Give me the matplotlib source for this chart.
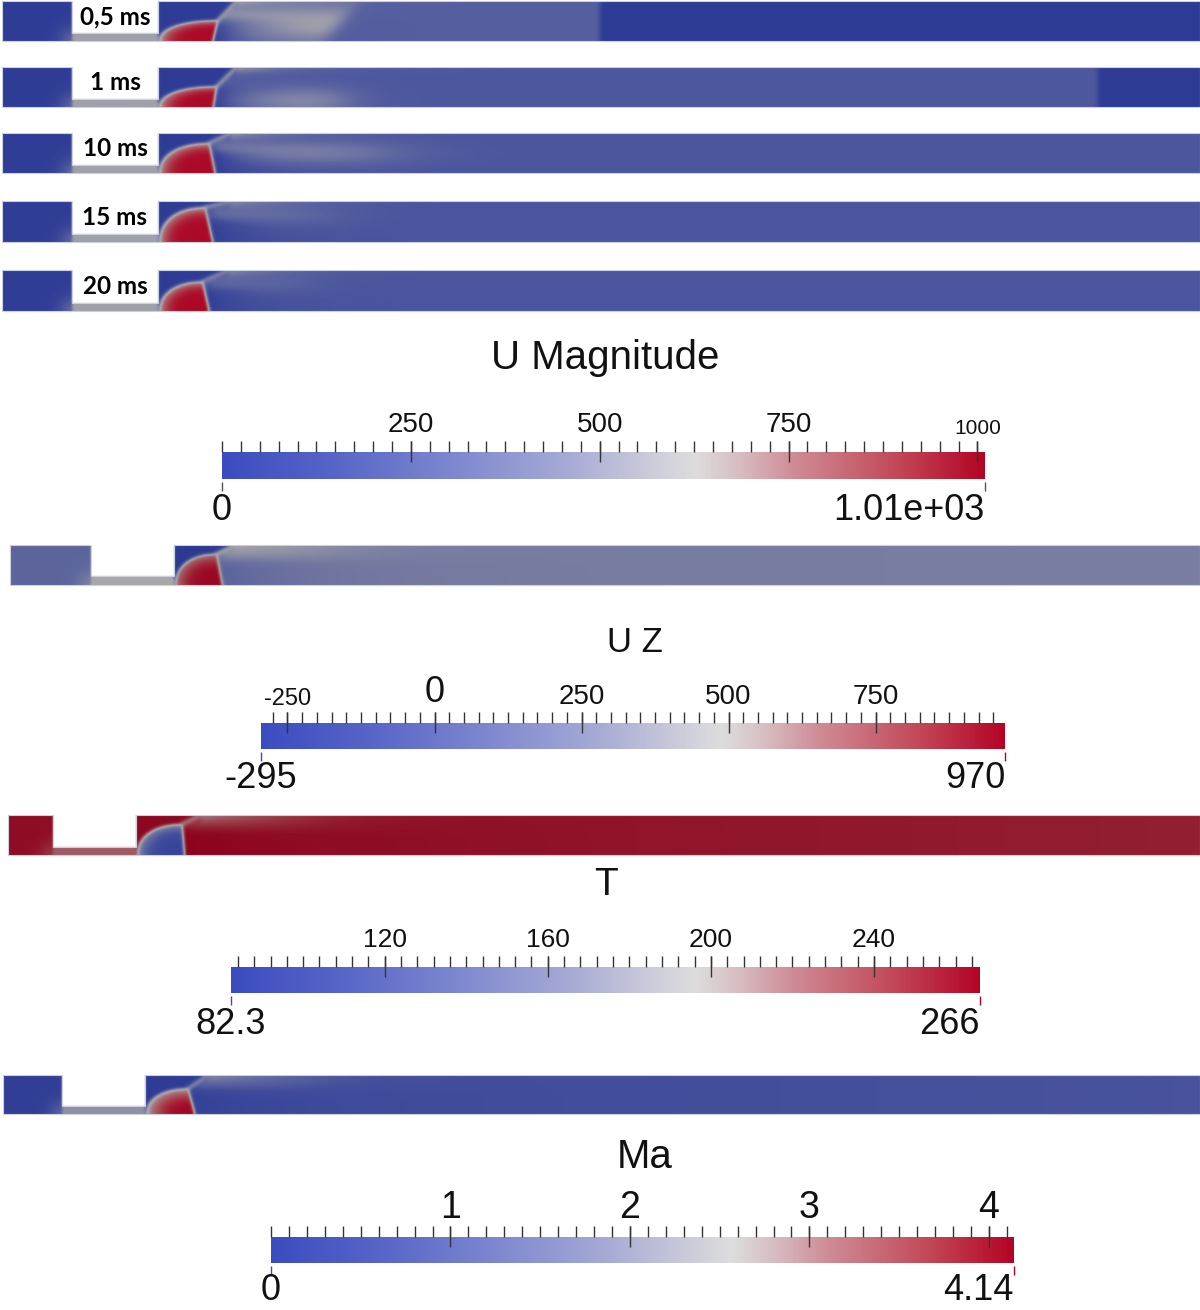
import numpy as np
import matplotlib
matplotlib.use("Agg")
import matplotlib.pyplot as plt
from matplotlib import font_manager
from matplotlib.colors import LinearSegmentedColormap
from matplotlib.transforms import blended_transform_factory
from matplotlib.patches import Polygon

# ---------------- velocity magnitude at five instants ----------------
times = ["0,5 ms", "1 ms", "10 ms", "15 ms", "20 ms"]
bub_top_x = [1.50, 1.47, 1.28, 1.15, 1.09]   # tip of the expansion region (channel heights)
bub_bot_x = [1.38, 1.39, 1.43, 1.34, 1.25]   # foot of its downstream edge
bub_h     = [0.52, 0.52, 0.75, 0.85, 0.72]   # tip height
wall_hit  = [1.95, 1.95, 1.80, 1.75, 1.70]   # where the shear layer meets the upper wall
u_res    = [10, 10, 15, 15, 15]
u_slit   = [575, 575, 575, 575, 575]
u_core   = [1000, 1000, 1000, 1000, 1000]
u_edge   = [660, 660, 650, 650, 650]
u_rim    = [640, 640, 640, 640, 640]
u_pocket = [10, 10, 10, 10, 10]
u_shadow = [30, 40, 20, 30, 30]
u_streak = [560, 540, 520, 480, 460]
u_bulk   = [240, 200, 190, 185, 185]
u_fan    = [610, 540, 470, 340, 300]
fan_y    = [0.40, 0.15, 0.50, 0.65, 0.65]
fan_w    = [0.55, 0.35, 0.30, 0.30, 0.30]
fan_end  = [4.6, 4.6, 5.5, 4.0, 3.5]
fan_soft = [0.25, 0.8, 1.6, 1.2, 1.0]
fan_tilt = [0.8, 0.0, 0.0, 0.0, 0.0]
front_x  = [11.05, 23.5, None, None, None]
u_ahead  = [5, 5, 5, 5, 5]

# ---------------- U Z, T and Ma fields ----------------
f_min      = [-295, 82.3, 0.0]
f_max      = [970, 266, 4.14]
f_top_x    = [1.06, 1.15, 1.11]
f_bot_x    = [1.21, 1.21, 1.28]
f_h        = [0.78, 0.77, 0.66]
f_hit      = [1.50, 1.60, 1.60]
f_res      = [72, 262, 0.1]
f_slit     = [500, 228, 2.1]
f_core     = [960, 95, 4.1]
f_edge     = [600, 175, 2.6]
f_rim      = [520, 205, 2.5]
f_pocket   = [-290, 264, 0.05]
f_shadow   = [60, 266, 0.2]
f_streak   = [480, 215, 1.9]
f_bulk     = [230, 263, 0.45]
f_drift    = [20, -8, 0.25]
f_fan      = [380, 245, 1.2]
f_fan_y    = [0.85, 0.85, 0.85]
f_fan_end  = [4.0, 4.0, 4.0]

# ---------------- colour bars ----------------
cb_titles = ["U Magnitude", "U Z", "T", "Ma"]
cb_min = [0, -295, 82.3, 0]
cb_max = [1010, 970, 266, 4.14]
cb_major = [[250, 500, 750, 1000], [-250, 0, 250, 500, 750], [120, 160, 200, 240], [1, 2, 3, 4]]
cb_major_text = [["250", "500", "750", "1000"], ["-250", "0", "250", "500", "750"],
                 ["120", "160", "200", "240"], ["1", "2", "3", "4"]]
cb_minor_step = [25, 25, 4, 0.1]
cb_lo_text = ["0", "-295", "82.3", "0"]
cb_hi_text = ["1.01e+03", "970", "266", "4.14"]

# ---------------- layout (pixels) ----------------
W, H = 1200, 1310
u_boxes = [(2, 1, 1200, 41), (2, 67, 1200, 107), (2, 133, 1200, 173),
           (2, 201, 1200, 242), (2, 270, 1200, 311)]
u_geom = (72, 158, 8)
f_boxes = [(10, 545, 1200, 585), (8, 815, 1200, 855), (3, 1075, 1200, 1114)]
f_geom = [(91, 174, 9), (53, 136, 8), (62, 145, 8)]
f_shade = [(0.76, 0.86), (0.78, 0.78), (0.78, 0.9)]
f_q = [2.0, 2.0, 1.4]

cb_boxes = [(222, 452, 985, 479), (261, 723, 1005, 749), (231, 967, 980, 993), (271, 1237, 1014, 1263)]
cb_title_xy = [(605, 358), (635, 643), (606, 885), (645, 1157)]
cb_title_size = [29, 25, 28, 29]
cb_major_y = [[425, 425, 425, 428], [699, 693, 697, 697, 697], [940] * 4, [1208] * 4]
cb_major_size = [[20, 20, 20, 15], [17, 26, 20, 20, 20], [19] * 4, [27] * 4]
cb_end_y = [510, 778, 1024, 1291]
cb_end_size = [26, 26, 26, 26]
cb_end_colors = [("#555555", "#555555"), ("#3b4cc0", "#b40426"),
                 ("#3b4cc0", "#b40426"), ("#3b4cc0", "#b40426")]

# cool-to-warm map, linear in RGB with the neutral point shifted toward the warm end
cw_nodes = [0.0, 0.15, 0.30, 0.45, 0.55, 0.62, 0.68, 0.75, 0.88, 1.0]
cw_rgb = [(59, 76, 192), (88, 102, 200), (125, 135, 207), (165, 170, 213), (200, 200, 218),
          (221, 221, 221), (215, 188, 193), (207, 140, 150), (195, 75, 90), (180, 4, 38)]
cmap = LinearSegmentedColormap.from_list(
    "cool_to_warm", [(n, tuple(c / 255 for c in rgb)) for n, rgb in zip(cw_nodes, cw_rgb)], N=512)

installed = {f.name for f in font_manager.fontManager.ttflist}
regular = "Liberation Sans" if "Liberation Sans" in installed else "DejaVu Sans"
label_font = "Lato" if "Lato" in installed else "DejaVu Sans"

fig = plt.figure(figsize=(W / 100, H / 100), dpi=100)
fig.patch.set_facecolor("white")


def px_rect(x0, y0, x1, y1):
    return [x0 / W, 1 - y1 / H, (x1 - x0) / W, (y1 - y0) / H]


def S(z, w):
    return 0.5 * (1.0 + np.tanh(z / w))


def seg_dist(X, Y, x0, y0, x1, y1):
    dx, dy = x1 - x0, y1 - y0
    t = np.clip(((X - x0) * dx + (Y - y0) * dy) / (dx * dx + dy * dy), 0, 1)
    return np.hypot(X - (x0 + t * dx), Y - (y0 + t * dy))


def blur(a, s):
    r = max(1, int(3 * s))
    k = np.exp(-0.5 * (np.arange(-r, r + 1) / s) ** 2)
    k /= k.sum()
    p = np.pad(a, r, mode="edge")
    ny, nx = a.shape
    h = sum(k[i] * p[:, i:i + nx] for i in range(2 * r + 1))
    return sum(k[i] * h[i:i + ny, :] for i in range(2 * r + 1))


def channel_field(X, Y, p):
    top, bot, bh, hit = p["top"], p["bot"], p["bh"], p["hit"]
    v = p["bulk"] + p["drift"] * np.clip(X, 0, None) / 26.0
    # lighter fluid trailing the expansion region
    end = p["fan_end"] + p["fan_tilt"] * (Y - 0.5)
    fan = (np.exp(-((Y - p["fan_y"]) / p["fan_w"]) ** 2)
           * S(end - X, p["fan_soft"]) * S(X - bot, 0.15))
    v = v + (p["fan"] - v) * fan
    # slow region right behind the expansion
    xe = bot + (top - bot) * np.clip(Y / bh, 0, 1)
    sh = S(X - xe, 0.05) * np.exp(-np.clip(X - bot, 0, None) / p["sh_len"]) * S(p["sh_h"] - Y, 0.12)
    v = v + (p["shadow"] - v) * sh
    # recirculation pocket in the upper corner
    frac = np.clip((X - top) / (hit - top), 0, None)
    yline = np.where(X < top, 0.0, bh + (1 - bh) * frac)
    pk = S(Y - yline, 0.04) * S(hit + 0.2 - X, 0.05)
    v = v + (p["pocket"] - v) * pk
    # shear layer from the tip to the upper wall, then along the wall
    st = np.exp(-(seg_dist(X, Y, top, bh, hit, 1.0) / 0.06) ** 2)
    wall = (np.exp(-((1 - Y) / 0.15) ** 2) * np.exp(-np.clip(X - hit, 0, None) / p["wall_len"])
            * S(X - hit, 0.05))
    st = np.maximum(st, wall)
    v = v + (p["streak"] - v) * st
    # moving front into fluid still at rest
    if p["front"] is not None:
        m = S(X - p["front"], 0.06)
        v = v + (p["ahead"] - v) * m
    # expansion region
    a = top - 0.03
    rr = (np.clip(top - X, 0, None) / a) ** 2.2 + (np.clip(Y, 0, None) / bh) ** 2.2
    inside = S(1 - rr, 0.05) * S(xe - X, 0.02)
    core = p["core"] + (p["edge"] - p["core"]) * np.clip(rr, 0, 1) ** p["q"]
    v = v + (core - v) * inside
    rim = (np.exp(-((rr - 1) / 0.07) ** 2) * S(xe - X + 0.03, 0.02)
           + np.exp(-((X - xe) / 0.03) ** 2) * S(bh - Y, 0.03))
    rim = np.clip(rim, 0, 1) * p["rim_a"]
    v = v + (p["rim"] - v) * rim
    return v


def draw_strip(box, geom, p, vmin, vmax, shade, label=None):
    x0, y0, x1, y1 = box
    x_slit, x_main, slit_px = geom
    hp = y1 - y0
    Lb, Ls, Lm = (x_slit - x0) / hp, (x_main - x_slit) / hp, (x1 - x_main) / hp
    sh = slit_px / hp
    nx, ny = 2 * (x1 - x0), 2 * hp
    X, Y = np.meshgrid(np.linspace(-Ls - Lb, Lm, nx), np.linspace(0, 1, ny))
    v = channel_field(X, Y, p)
    dist = np.hypot(X + Ls, Y)
    res = p["res"] + (p["slit"] - p["res"]) * 0.45 * np.exp(-(dist / 0.35) ** 2)
    v = np.where(X < 0, p["slit"], v)
    v = np.where(X < -Ls, res, v)
    v = blur(v, 2.4)
    t = np.clip((v - vmin) / (vmax - vmin), 0, 1)
    k_lo, k_hi = shade
    k = k_lo + (k_hi - k_lo) * np.clip((t - 0.6) / 0.4, 0, 1)
    rgb = np.clip(k[..., None] * cmap(t)[..., :3], 0, 1)
    alpha = np.where((X >= -Ls) & (X < 0) & (Y > sh), 0.0, 1.0)
    img = np.dstack([rgb, alpha])
    ax = fig.add_axes(px_rect(x0, y0, x1, y1))
    ax.imshow(img, extent=(-Ls - Lb, Lm, 0, 1), origin="lower", aspect="auto",
              interpolation="bilinear")
    outline = [(-Ls - Lb, 0), (Lm, 0), (Lm, 1), (0, 1), (0, sh), (-Ls, sh), (-Ls, 1), (-Ls - Lb, 1)]
    ax.add_patch(Polygon(outline, closed=True, fill=False, edgecolor=(0.80, 0.82, 0.88),
                         lw=0.8, clip_on=False))
    ax.set_xlim(-Ls - Lb, Lm)
    ax.set_ylim(0, 1)
    ax.axis("off")
    if label:
        ax.text(-Ls / 2, (1 + sh) / 2, label, ha="center", va="center", fontsize=17.5,
                fontweight="bold", family=label_font, color="black")


def draw_colorbar(i):
    x0, y0, x1, y1 = cb_boxes[i]
    vmin, vmax = cb_min[i], cb_max[i]
    bh = y1 - y0
    ax = fig.add_axes(px_rect(x0, y0, x1, y1))
    ax.imshow(np.linspace(0, 1, 512)[None, :], cmap=cmap, extent=(vmin, vmax, 0, 1),
              aspect="auto", interpolation="bilinear")
    ax.set_xlim(vmin, vmax)
    ax.set_ylim(0, 1)
    ax.axis("off")
    tr = blended_transform_factory(ax.transData, ax.transAxes)
    step = cb_minor_step[i]
    minor = np.arange(np.ceil(vmin / step - 1e-9) * step, vmax + 1e-9, step)
    ax.vlines(minor, 1, 1 + 11 / bh, colors="#333333", lw=1.0, transform=tr, clip_on=False)
    ax.vlines(cb_major[i], 1 - 10 / bh, 1 + 11 / bh, colors="#333333", lw=1.0,
              transform=tr, clip_on=False)
    lo_c, hi_c = cb_end_colors[i]
    ax.vlines([vmin], -12 / bh, -3 / bh, colors=lo_c, lw=1.0, transform=tr, clip_on=False)
    ax.vlines([vmax], -12 / bh, -3 / bh, colors=hi_c, lw=1.0, transform=tr, clip_on=False)
    for val, txt, yy, fs in zip(cb_major[i], cb_major_text[i], cb_major_y[i], cb_major_size[i]):
        ax.text(val, (y1 - yy) / bh, txt, transform=tr, ha="center", va="center",
                fontsize=fs, family=regular, color="#111111")
    ye = (y1 - cb_end_y[i]) / bh
    ax.text(vmin, ye, cb_lo_text[i], transform=tr, ha="center", va="center",
            fontsize=cb_end_size[i], family=regular, color="#111111")
    ax.text(vmax, ye, cb_hi_text[i], transform=tr, ha="right", va="center",
            fontsize=cb_end_size[i], family=regular, color="#111111")
    tx, ty = cb_title_xy[i]
    fig.text(tx / W, 1 - ty / H, cb_titles[i], ha="center", va="center",
             fontsize=cb_title_size[i], family=regular, color="#111111")


for i in range(len(times)):
    prm = dict(top=bub_top_x[i], bot=bub_bot_x[i], bh=bub_h[i], hit=wall_hit[i],
               res=u_res[i], slit=u_slit[i], core=u_core[i], edge=u_edge[i], q=3.0,
               rim=u_rim[i], rim_a=0.8, pocket=u_pocket[i], shadow=u_shadow[i],
               sh_len=1.0, sh_h=0.55, streak=u_streak[i], wall_len=1.2,
               bulk=u_bulk[i], drift=0.0, fan=u_fan[i], fan_y=fan_y[i], fan_w=fan_w[i],
               fan_end=fan_end[i], fan_soft=fan_soft[i], fan_tilt=fan_tilt[i],
               front=front_x[i], ahead=u_ahead[i])
    draw_strip(u_boxes[i], u_geom, prm, cb_min[0], cb_max[0], (0.78, 0.95), label=times[i])

for j in range(3):
    prm = dict(top=f_top_x[j], bot=f_bot_x[j], bh=f_h[j], hit=f_hit[j],
               res=f_res[j], slit=f_slit[j], core=f_core[j], edge=f_edge[j], q=f_q[j],
               rim=f_rim[j], rim_a=0.8, pocket=f_pocket[j], shadow=f_shadow[j],
               sh_len=2.0, sh_h=0.6, streak=f_streak[j], wall_len=1.5,
               bulk=f_bulk[j], drift=f_drift[j], fan=f_fan[j], fan_y=f_fan_y[j], fan_w=0.25,
               fan_end=f_fan_end[j], fan_soft=2.0, fan_tilt=0.0, front=None, ahead=0)
    draw_strip(f_boxes[j], f_geom[j], prm, f_min[j], f_max[j], f_shade[j])

for i in range(4):
    draw_colorbar(i)

fig.savefig("out.png", dpi=100, facecolor="white")
